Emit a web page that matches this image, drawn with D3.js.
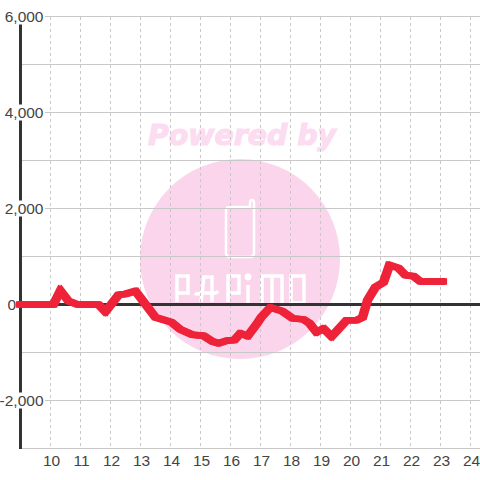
<!DOCTYPE html>
<html><head><meta charset="utf-8">
<script src="https://cdn.jsdelivr.net/npm/d3@7"></script>
<style>html,body{margin:0;padding:0;background:#fff}svg{display:block}</style>
</head><body><div id="c"></div>
<script>
const hours=[8.9,10.1,10.33,10.6,10.9,11.6,11.83,12.27,12.5,12.83,13.5,14.03,14.33,14.73,15.1,15.4,15.6,15.9,16.13,16.33,16.57,16.87,17.03,17.33,17.73,18.07,18.43,18.63,18.87,19.1,19.37,19.87,20.2,20.4,20.57,20.83,21.1,21.3,21.6,21.83,22.1,22.33,23.17];
const values=[0,0,290,70,0,0,-150,200,220,280,-270,-370,-520,-630,-650,-770,-810,-750,-740,-600,-660,-410,-260,-60,-140,-290,-310,-390,-580,-500,-670,-330,-330,-270,90,360,460,820,760,610,590,480,480];
const yTicks=[-2000,0,2000,4000,6000];
const xTicks=[10,11,12,13,14,15,16,17,18,19,20,21,22,23,24];
const gridValues=[-3000,-2000,-1000,1000,2000,3000,4000,5000,6000];

const W=480,H=480;
const x=d3.scaleLinear().domain([9,24]).range([20.5,470.5]);
const y=d3.scaleLinear().domain([-3000,6000]).range([448.5,16.5]);
const svg=d3.select("#c").append("svg").attr("width",W).attr("height",H).style("font-family","'Liberation Sans',Arial,sans-serif");

// watermark
const wm=svg.append("g");
wm.append("circle").attr("cx",240).attr("cy",259).attr("r",100).attr("fill","#fbd5ec");
wm.append("text").attr("x",148).attr("y",144.5).attr("textLength",188).attr("lengthAdjust","spacingAndGlyphs").attr("font-family","'DejaVu Sans'").attr("font-size",29).attr("font-weight","bold").attr("font-style","italic").attr("fill","#fcdcf0").attr("stroke","#fcdcf0").attr("stroke-width",1.2).text("Powered by");
wm.append("path").attr("d","M230 207H250V203Q250 200 252 200Q254 200 254 203V253Q254 257 250 257H230Q226 257 226 253V211Q226 207 230 207Z").attr("fill","none").attr("stroke","#fff").attr("stroke-width",2.5);
const logo=["M177 302V276H188V293H177","M201 302L204 277H212V302M195 293Q197 295 201 293H213Q216 294 218 291","M228 302V276H239V293H228","M248 303V285","M262 303V276H282V303M272 276V303","M291 303V276H304V303H291"];
logo.forEach(d=>wm.append("path").attr("d",d).attr("fill","none").attr("stroke","#fff").attr("stroke-width",3.5));
wm.append("circle").attr("cx",248).attr("cy",277).attr("r",3.4).attr("fill","#fff");

// grid
const grid=svg.append("g");
grid.selectAll("line.h").data(gridValues).join("line").attr("class","h").attr("x1",20).attr("x2",W).attr("y1",d=>y(d)).attr("y2",d=>y(d)).attr("stroke","#c8c8c8").attr("stroke-width",1);
grid.selectAll("line.v").data(xTicks).join("line").attr("class","v").attr("x1",d=>x(d)).attr("x2",d=>x(d)).attr("y1",17).attr("y2",448).attr("stroke","#c8c8c8").attr("stroke-dasharray","3,3");

// axes
svg.append("line").attr("x1",20.5).attr("x2",20.5).attr("y1",16).attr("y2",449).attr("stroke","#333").attr("stroke-width",3);
svg.append("line").attr("x1",22).attr("x2",W).attr("y1",y(0)).attr("y2",y(0)).attr("stroke","#333").attr("stroke-width",3);

// y labels
const yl=svg.append("g");
yTicks.filter(d=>d!==0).forEach(d=>{
  yl.append("rect").attr("x",0).attr("y",y(d)-8).attr("width",45).attr("height",16).attr("fill","#fff");
});
yl.selectAll("text").data(yTicks).join("text").attr("x",d=>d===0?16:43.5).attr("y",d=>y(d)+5.5).attr("text-anchor","end").attr("font-size",15.5).attr("fill","#444").text(d=>d3.format(",")(d).replace("−","-"));

// x labels
svg.append("g").selectAll("text").data(xTicks).join("text").attr("x",d=>x(d)+1).attr("y",466).attr("text-anchor","middle").attr("font-size",15.5).attr("fill","#444").text(d=>d);

// series: offset copies widen the sloped parts like the reference's square pen
const line=d3.line().x((d,i)=>x(hours[i])).y(d=>y(d));
svg.selectAll("path.s").data([-1.5,0,1.5]).join("path").attr("class","s").attr("transform",d=>`translate(${d},0)`).attr("d",line(values)).attr("fill","none").attr("stroke","#ee2238").attr("stroke-width",6.5).attr("stroke-linejoin","miter");
</script></body></html>
